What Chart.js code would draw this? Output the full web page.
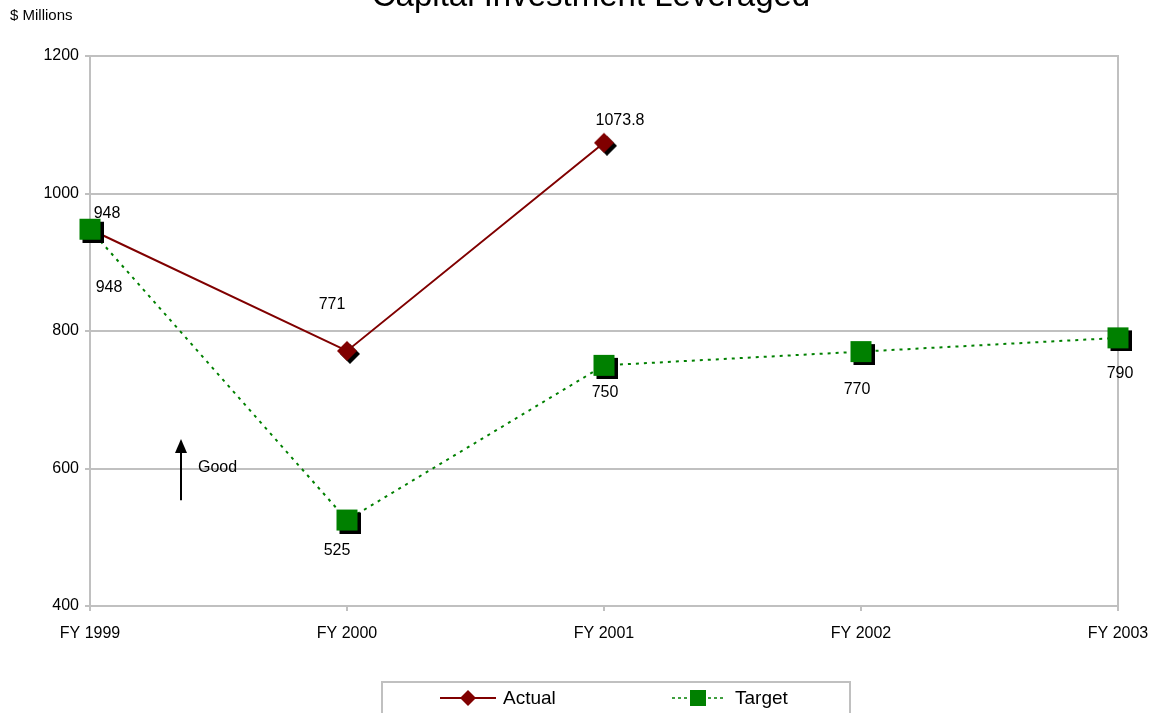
<!DOCTYPE html>
<html>
<head>
<meta charset="utf-8">
<title>Capital Investment Leveraged</title>
<script src="https://cdn.jsdelivr.net/npm/chart.js@4/dist/chart.umd.min.js"></script>
<style>
  html, body { margin: 0; padding: 0; background: #ffffff; }
  #wrap { position: relative; width: 1154px; height: 713px; }
</style>
</head>
<body>
<div id="wrap"><canvas id="chart" width="1154" height="713"></canvas></div>
<script>
// Fiscal years on the category axis
const categories = ['FY 1999', 'FY 2000', 'FY 2001', 'FY 2002', 'FY 2003'];
// Capital investment leveraged, $ millions
const actualValues = [948, 771, 1073.8, null, null];
const targetValues = [948, 525, 750, 770, 790];
// Value axis ticks
const yTicks = [400, 600, 800, 1000, 1200];

const FONT = '"Liberation Sans", Arial, Helvetica, sans-serif';
const RED = '#800000';
const GREEN = '#008000';

// Marker images with a small drop shadow, the way the spreadsheet draws them
function squareMarker(size, off) {
  const c = document.createElement('canvas');
  const pad = off;
  c.width = size + 2 * pad; c.height = size + 2 * pad;
  const g = c.getContext('2d');
  g.fillStyle = '#000000';
  g.fillRect(pad + off, pad + off, size, size);
  g.fillStyle = GREEN;
  g.fillRect(pad, pad, size, size);
  return c;
}
function diamondMarker(size, off) {
  const c = document.createElement('canvas');
  const pad = off;
  c.width = size + 2 * pad; c.height = size + 2 * pad;
  const g = c.getContext('2d');
  const h = size / 2;
  const draw = (cx, cy, color) => {
    g.fillStyle = color;
    g.beginPath();
    g.moveTo(cx, cy - h); g.lineTo(cx + h, cy); g.lineTo(cx, cy + h); g.lineTo(cx - h, cy);
    g.closePath(); g.fill();
  };
  draw(pad + h + off, pad + h + off, '#000000');
  draw(pad + h, pad + h, RED);
  return c;
}

// Value labels, placed next to each point (dx, dy in pixels from the point)
const labelPlacement = {
  0: [[17, -16], [-15, -46], [16, -22], null, null],
  1: [[19, 58], [-10, 31], [1, 27], [-4, 38], [2, 36]]
};

const pointLabels = {
  id: 'pointLabels',
  afterDatasetsDraw(chart) {
    const ctx = chart.ctx;
    ctx.save();
    ctx.font = '16px ' + FONT;
    ctx.fillStyle = '#000000';
    ctx.textAlign = 'center';
    ctx.textBaseline = 'middle';
    chart.data.datasets.forEach((ds, di) => {
      const meta = chart.getDatasetMeta(di);
      meta.data.forEach((pt, i) => {
        const v = ds.data[i];
        const place = labelPlacement[di][i];
        if (v === null || !place) return;
        ctx.fillText(String(v), pt.x + place[0], pt.y + place[1]);
      });
    });
    ctx.restore();
  }
};

// Title, unit caption, "Good" arrow and the boxed legend
const decorations = {
  id: 'decorations',
  afterDraw(chart) {
    const ctx = chart.ctx;
    const y = chart.scales.y;
    ctx.save();
    ctx.fillStyle = '#000000';
    ctx.font = '33px ' + FONT;
    ctx.textAlign = 'center';
    ctx.textBaseline = 'alphabetic';
    ctx.fillText('Capital Investment Leveraged', 591, 6);

    ctx.font = '15px ' + FONT;
    ctx.textAlign = 'left';
    ctx.textBaseline = 'middle';
    ctx.fillText('$ Millions', 10, 16);

    // "Good" arrow pointing up
    const ax = 181;
    const yTop = y.getPixelForValue(643);
    const yBot = y.getPixelForValue(554);
    ctx.strokeStyle = '#000000';
    ctx.lineWidth = 2;
    ctx.beginPath(); ctx.moveTo(ax, yBot); ctx.lineTo(ax, yTop + 8); ctx.stroke();
    ctx.beginPath();
    ctx.moveTo(ax, yTop); ctx.lineTo(ax + 6, yTop + 14); ctx.lineTo(ax - 6, yTop + 14);
    ctx.closePath(); ctx.fill();
    ctx.font = '16px ' + FONT;
    ctx.fillText('Good', 198, y.getPixelForValue(600) - 1);

    // Legend box
    ctx.strokeStyle = '#c0c0c0';
    ctx.lineWidth = 2;
    ctx.strokeRect(382, 682, 468, 50);
    const ly = 698;
    ctx.strokeStyle = RED;
    ctx.lineWidth = 2;
    ctx.beginPath(); ctx.moveTo(440, ly); ctx.lineTo(496, ly); ctx.stroke();
    ctx.fillStyle = RED;
    ctx.beginPath();
    ctx.moveTo(468, ly - 8); ctx.lineTo(476, ly); ctx.lineTo(468, ly + 8); ctx.lineTo(460, ly);
    ctx.closePath(); ctx.fill();
    ctx.strokeStyle = GREEN;
    ctx.lineWidth = 1.5;
    ctx.setLineDash([3, 3]);
    ctx.beginPath(); ctx.moveTo(672, ly); ctx.lineTo(724, ly); ctx.stroke();
    ctx.setLineDash([]);
    ctx.fillStyle = '#ffffff';
    ctx.fillRect(690, ly - 9, 18, 18);
    ctx.fillStyle = GREEN;
    ctx.fillRect(690, ly - 8, 16, 16);
    ctx.fillStyle = '#000000';
    ctx.font = '19px ' + FONT;
    ctx.textBaseline = 'middle';
    ctx.fillText('Actual', 503, ly + 1);
    ctx.fillText('Target', 735, ly + 1);
    ctx.restore();
  }
};

new Chart(document.getElementById('chart'), {
  type: 'line',
  data: {
    labels: categories,
    datasets: [
      {
        label: 'Actual',
        data: actualValues,
        order: 2,
        borderColor: RED,
        backgroundColor: RED,
        borderWidth: 2,
        pointStyle: diamondMarker(20, 3),
        pointRadius: 10,
        tension: 0,
        spanGaps: false
      },
      {
        label: 'Target',
        data: targetValues,
        order: 1,
        borderColor: GREEN,
        backgroundColor: GREEN,
        borderWidth: 2,
        borderDash: [3, 5],
        pointStyle: squareMarker(21, 3),
        pointRadius: 12,
        tension: 0
      }
    ]
  },
  options: {
    responsive: false,
    animation: false,
    events: [],
    layout: { padding: { top: 56, right: 36, left: 0, bottom: 0 } },
    plugins: {
      legend: { display: false },
      title: { display: false },
      tooltip: { enabled: false }
    },
    scales: {
      x: {
        offset: false,
        grid: {
          display: true,
          drawOnChartArea: false,
          drawTicks: true,
          tickLength: 5,
          color: '#c0c0c0',
          lineWidth: 2
        },
        border: { display: true, color: '#c0c0c0', width: 2 },
        ticks: {
          color: '#000000',
          font: { family: FONT, size: 16 },
          padding: 13,
          maxRotation: 0,
          autoSkip: false
        },
        afterFit(scale) {
          scale.height = 107;
          scale.paddingLeft = 0;
          scale.paddingRight = 0;
        }
      },
      y: {
        min: 400,
        max: 1200,
        afterBuildTicks(scale) { scale.ticks = yTicks.map(v => ({ value: v })); },
        grid: {
          color: '#c0c0c0',
          lineWidth: 2,
          tickLength: 5
        },
        border: { display: true, color: '#c0c0c0', width: 2 },
        ticks: {
          color: '#000000',
          font: { family: FONT, size: 16 },
          padding: 6,
          callback: (v) => String(v)
        },
        afterFit(scale) { scale.width = 90; }
      },
      yRight: {
        position: 'right',
        min: 400,
        max: 1200,
        grid: { display: false, drawTicks: false },
        border: { display: true, color: '#c0c0c0', width: 2 },
        ticks: { display: false },
        afterFit(scale) { scale.width = 0; }
      }
    }
  },
  plugins: [pointLabels, decorations]
});
</script>
</body>
</html>
